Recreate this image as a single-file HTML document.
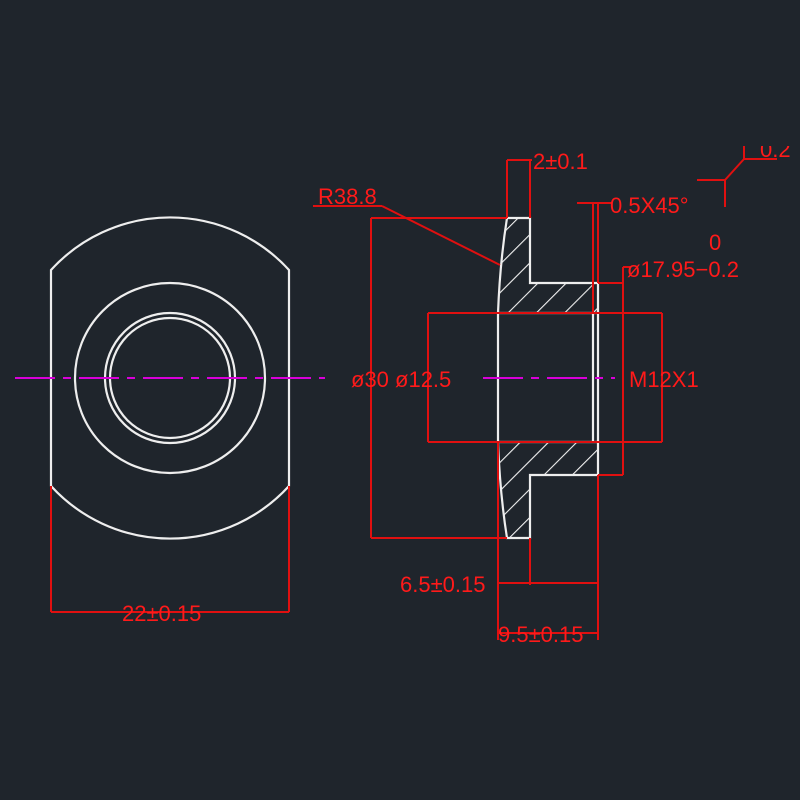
<!DOCTYPE html>
<html><head><style>
html,body{margin:0;padding:0;background:#1f252c;}
svg{display:block}
text{font-family:"Liberation Sans",sans-serif;fill:#ff1a1a;font-size:22px}
</style></head><body>
<svg width="800" height="800" viewBox="0 0 800 800">
<rect width="800" height="800" fill="#1f252c"/>
<defs>
<pattern id="h" patternUnits="userSpaceOnUse" width="20" height="20" patternTransform="rotate(45)">
<line x1="0" y1="0" x2="0" y2="20" stroke="#f2f2f2" stroke-width="2.2"/>
</pattern>
<clipPath id="c"><rect x="0" y="146" width="800" height="654"/></clipPath>
</defs>
<g stroke="#eeeeee" stroke-width="2.2" fill="none">
<path d="M51,270 A161,161 0 0 1 289,270 L289,486 A161,161 0 0 1 51,486 Z"/>
<circle cx="170" cy="378" r="95"/>
<circle cx="170" cy="378" r="65"/>
<circle cx="170" cy="378" r="60"/>
<path d="M507,218 L530,218 L530,283 L598,283 L598,313 L498,313 Q500,262 507,218 Z" fill="url(#h)"/>
<path d="M507,538 L530,538 L530,475 L598,475 L598,442 L498,442 Q500,494 507,538 Z" fill="url(#h)"/>
<path d="M498,313 L498,442 M593,313 L593,442 M598,313 L598,442"/>
</g>
<g stroke="#e01010" stroke-width="2" fill="none">
<line x1="51" y1="486" x2="51" y2="612"/><line x1="289" y1="486" x2="289" y2="612"/>
<line x1="51" y1="612" x2="289" y2="612"/>
<line x1="371" y1="218" x2="507" y2="218"/><line x1="371" y1="538" x2="507" y2="538"/>
<line x1="371" y1="218" x2="371" y2="538"/>
<line x1="428" y1="313" x2="662" y2="313"/><line x1="428" y1="442" x2="662" y2="442"/>
<line x1="428" y1="313" x2="428" y2="442"/><line x1="662" y1="313" x2="662" y2="442"/>
<line x1="598" y1="283" x2="623" y2="283"/><line x1="598" y1="475" x2="623" y2="475"/>
<line x1="623" y1="267" x2="623" y2="475"/><line x1="623" y1="267" x2="630" y2="267"/>
<line x1="507" y1="160" x2="507" y2="218"/><line x1="530" y1="160" x2="530" y2="218"/>
<line x1="507" y1="160" x2="532" y2="160"/>
<line x1="593" y1="203" x2="593" y2="313"/><line x1="598" y1="203" x2="598" y2="283"/>
<line x1="577" y1="203" x2="612" y2="203"/>
<line x1="313" y1="206" x2="382" y2="206"/><line x1="382" y1="206" x2="500" y2="265"/>
<line x1="530" y1="538" x2="530" y2="585"/><line x1="598" y1="475" x2="598" y2="640"/>
<line x1="498" y1="442" x2="498" y2="640"/>
<line x1="498" y1="583" x2="598" y2="583"/>
<line x1="498" y1="633" x2="598" y2="633"/>
<g clip-path="url(#c)">
<line x1="697" y1="180" x2="725" y2="180"/><line x1="725" y1="180" x2="725" y2="207"/>
<line x1="725" y1="180" x2="744" y2="159"/><line x1="744" y1="159" x2="777" y2="159"/>
<line x1="744" y1="140" x2="744" y2="159"/>
</g>
</g>
<g stroke="#d800d8" stroke-width="2" stroke-dasharray="40,8,8,8">
<line x1="15" y1="378" x2="325" y2="378"/>
<line x1="483" y1="378" x2="615" y2="378"/>
</g>
<text x="122" y="621">22±0.15</text>
<text x="318" y="204">R38.8</text>
<text x="533" y="169">2±0.1</text>
<text x="610" y="213">0.5X45°</text>
<text x="627" y="277">ø17.95−0.2</text>
<text x="709" y="250">0</text>
<text x="351" y="387">ø30 ø12.5</text>
<text x="629" y="387">M12X1</text>
<text x="400" y="592">6.5±0.15</text>
<text x="498" y="642">9.5±0.15</text>
<g clip-path="url(#c)"><text x="760" y="157">0.2</text></g>
</svg>
</body></html>
